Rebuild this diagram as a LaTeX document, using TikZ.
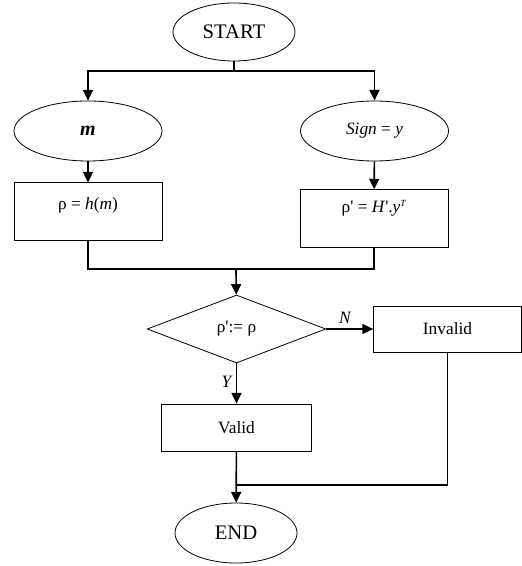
\documentclass[tikz,border=0pt]{standalone}
\usepackage{fontspec}
\setmainfont{Liberation Serif}
\usetikzlibrary{shapes.geometric,arrows.meta}
\tikzset{node distance=2.0cm, auto,
  term/.style={draw, ellipse, line width=0.6pt, inner sep=0pt},
  proc/.style={draw, rectangle, line width=0.6pt, inner sep=0pt,
    minimum width=111pt},
  decide/.style={draw, diamond, line width=0.6pt, inner sep=0pt,
    minimum width=134pt, minimum height=51pt},
  flow/.style={line width=1.2pt, -{Triangle[length=8pt,width=7.5pt]}},
  plain/.style={line width=1.2pt}}
\newcommand{\pr}{\textquotesingle}

\begin{document}
\begin{tikzpicture}[x=0.75pt, y=-0.75pt, font=\fontsize{13}{15}\selectfont]
\useasboundingbox (0,0) rectangle (521,566);
\node[term, minimum width=91.5pt, minimum height=43.5pt,
  font=\fontsize{15.5}{17}\selectfont] (start) at (234,32) {START};
\node[term, minimum width=111pt, minimum height=45pt] (msg) at (88,131)
  {\fontsize{15}{17}\selectfont\bfseries\itshape m};
\node[term, minimum width=111pt, minimum height=45pt] (sign) at (374.5,131)
  {\itshape Sign\/\upshape{} = \itshape y};
\node[proc, minimum height=43pt, text height=9pt, text depth=12pt] (hash) at (88,211.5)
  {ρ = \textit{h}(\textit{m})};
\node[proc, minimum height=43pt, text height=9pt, text depth=18pt] (synd) at (374,218.5)
  {ρ\pr{} = \textit{H}\pr.\textit{y}\textsuperscript{\itshape\scriptsize T}};
\node[decide] (check) at (236.5,329) {ρ\pr:= ρ};
\node[proc, minimum height=34.5pt] (invalid) at (447.5,329) {Invalid};
\node[proc, minimum height=35.25pt, minimum width=112pt] (valid) at (236.5,427.5) {Valid};
\node[term, minimum width=91.5pt, minimum height=45pt,
  font=\fontsize{15.5}{17}\selectfont] (end) at (236,533) {END};

\coordinate (fork) at (234,71);
\coordinate (merge) at (236,269);
\coordinate (back) at (236,485);

% top branches
\draw[plain] (start) -- (fork);
\draw[flow] (fork) -| (msg);
\draw[flow] (fork) -| (sign);
\draw[flow] (msg) -- (hash);
\draw[flow] (sign) -- (synd);
% join
\draw[plain] (hash.south) |- (merge);
\draw[plain] (synd.south) |- (merge);
\draw[flow] (merge) -- (check);
% decision
\draw[flow] (check.east) -- node[above, pos=0.4] {\itshape N} (invalid.west);
\draw[flow] (check.south) -- node[left, pos=0.45] {\itshape Y} (valid.north);
\draw[flow] (valid) -- (end);
\draw[plain] (invalid.south) |- (back);
\end{tikzpicture}
\end{document}
